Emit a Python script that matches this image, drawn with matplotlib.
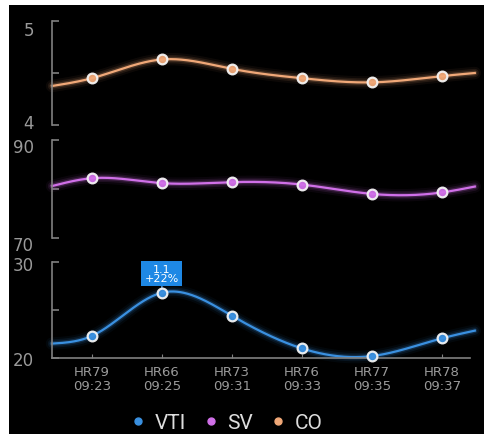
import numpy as np
import matplotlib
matplotlib.use('Agg')
import matplotlib.pyplot as plt
import matplotlib.transforms as mtrans
from matplotlib.lines import Line2D

# data
categories = ['HR79\n09:23', 'HR66\n09:25', 'HR73\n09:31', 'HR76\n09:33', 'HR77\n09:35', 'HR78\n09:37']
vti = [22.3, 26.8, 24.4, 21.0, 20.2, 22.05]
sv = [82.2, 81.2, 81.4, 80.9, 79.0, 79.3]
co = [4.45, 4.63, 4.54, 4.45, 4.41, 4.47]
# values where each line leaves the plot on the left / right edge
vti_edges = [21.5, 22.85]
sv_edges = [80.6, 80.5]
co_edges = [4.375, 4.50]
vti_label = '1.1\n+22%'

XMIN, XMAX = -0.57, 5.47


def natural_spline(x, y, xs):
	x = np.asarray(x, float)
	y = np.asarray(y, float)
	n = len(x)
	h = np.diff(x)
	A = np.zeros((n, n))
	b = np.zeros(n)
	A[0, 0] = 1
	A[-1, -1] = 1
	for i in range(1, n - 1):
		A[i, i - 1] = h[i - 1]
		A[i, i] = 2 * (h[i - 1] + h[i])
		A[i, i + 1] = h[i]
		b[i] = 3 * ((y[i + 1] - y[i]) / h[i] - (y[i] - y[i - 1]) / h[i - 1])
	c = np.linalg.solve(A, b)
	out = np.zeros_like(xs)
	for k, t in enumerate(xs):
		i = min(max(np.searchsorted(x, t) - 1, 0), n - 2)
		bb = (y[i + 1] - y[i]) / h[i] - h[i] * (2 * c[i] + c[i + 1]) / 3
		d = (c[i + 1] - c[i]) / (3 * h[i])
		dt = t - x[i]
		out[k] = y[i] + bb * dt + c[i] * dt ** 2 + d * dt ** 3
	return out


W, H = 484, 435
fig = plt.figure(figsize=(W / 100, H / 100), dpi=100, facecolor='white')
bg = fig.add_axes([9 / W, 0, (W - 9) / W, (H - 6) / H])
bg.set_facecolor('black')
bg.set_xticks([])
bg.set_yticks([])
for s in bg.spines.values():
	s.set_visible(False)

narrow = ['Liberation Sans Narrow', 'DejaVu Sans']
gray = '#9a9a9a'

# series, edges, colour, y range, top px, bottom px, label shifts (px, down)
panels = [
	(co, co_edges, '#f0a878', (4, 5), 22, 126, (-4, 7)),
	(sv, sv_edges, '#d070e8', (70, 90), 141, 239, (5, 5)),
	(vti, vti_edges, '#3a90e0', (20, 30), 263, 359, (0, 1)),
]

xs = np.arange(len(categories))
axes = []
for vals, edges, col, (lo, hi), top, bot, shifts in panels:
	ax = fig.add_axes([52 / W, (H - bot) / H, (XMAX - XMIN) * 70 / W, (bot - top) / H])
	ax.set_facecolor('none')
	ax.set_xlim(XMIN, XMAX)
	ax.set_ylim(lo, hi)
	for s in ['top', 'right', 'bottom']:
		ax.spines[s].set_visible(False)
	ax.spines['left'].set_color('#808080')
	ax.spines['left'].set_linewidth(1.2)
	ax.set_yticks([lo, (lo + hi) / 2, hi])
	ax.set_yticklabels([str(lo), '', str(hi)])
	ax.tick_params(axis='y', direction='in', length=5, width=1.2, color='#808080',
		labelcolor=gray, labelsize=12, pad=13)
	labels = ax.get_yticklabels()
	for lbl, sh in zip([labels[0], labels[2]], shifts):
		lbl.set_fontfamily(narrow)
		off = mtrans.ScaledTranslation(0, -sh / 100, fig.dpi_scale_trans)
		lbl.set_transform(lbl.get_transform() + off)

	px = np.concatenate([[XMIN], xs, [XMAX]])
	py = np.concatenate([[edges[0]], vals, [edges[1]]])
	sx = np.linspace(XMIN, XMAX, 400)
	sy = natural_spline(px, py, sx)
	# glow
	for lw, a in [(9, 0.05), (6, 0.1), (3.5, 0.2)]:
		ax.plot(sx, sy, color=col, lw=lw, alpha=a, solid_capstyle='round', clip_on=False)
	ax.plot(sx, sy, color=col, lw=1.6, clip_on=False)
	ax.plot(xs, vals, 'o', ms=7, mfc=col, mec='#f4f4f4', mew=1.6, alpha=0.95, clip_on=False, zorder=5)
	axes.append(ax)

for ax in axes[:2]:
	ax.set_xticks([])

axb = axes[2]
axb.spines['bottom'].set_visible(True)
axb.spines['bottom'].set_color('#808080')
axb.spines['bottom'].set_linewidth(1.2)
axb.spines['bottom'].set_bounds(XMIN, 5.4)
axb.set_xticks(xs)
axb.set_xticklabels(categories)
axb.tick_params(axis='x', direction='in', length=3, color='#808080', labelcolor=gray,
	labelsize=9.5, pad=5)
for lbl in axb.get_xticklabels():
	lbl.set_fontfamily(narrow)
	lbl.set_linespacing(1.1)

# label above the VTI peak
imax = int(np.argmax(vti))
axb.annotate(vti_label, xy=(xs[imax], vti[imax]), xytext=(0, 7), textcoords='offset points',
	ha='center', va='bottom', fontsize=8, color='white', linespacing=0.85,
	fontfamily=narrow,
	bbox=dict(boxstyle='square,pad=0.3', fc='#1e88e5', ec='none'),
	arrowprops=dict(arrowstyle='-', color='#5aa8f0', lw=1, shrinkA=0, shrinkB=3))

handles = [Line2D([], [], marker='o', ls='none', ms=5, color=c) for c in ['#3a90e0', '#d070e8', '#f0a878']]
leg = fig.legend(handles, ['VTI', 'SV', 'CO'], loc='center', bbox_to_anchor=(225 / W, 1 - 424 / H),
	ncol=3, frameon=False, fontsize=15, handletextpad=0.3, columnspacing=0.7, handlelength=1)
for t in leg.get_texts():
	t.set_color('#dddddd')
	t.set_fontfamily(['Roboto', 'DejaVu Sans'])

fig.savefig('out.png', dpi=100, facecolor=fig.get_facecolor())
